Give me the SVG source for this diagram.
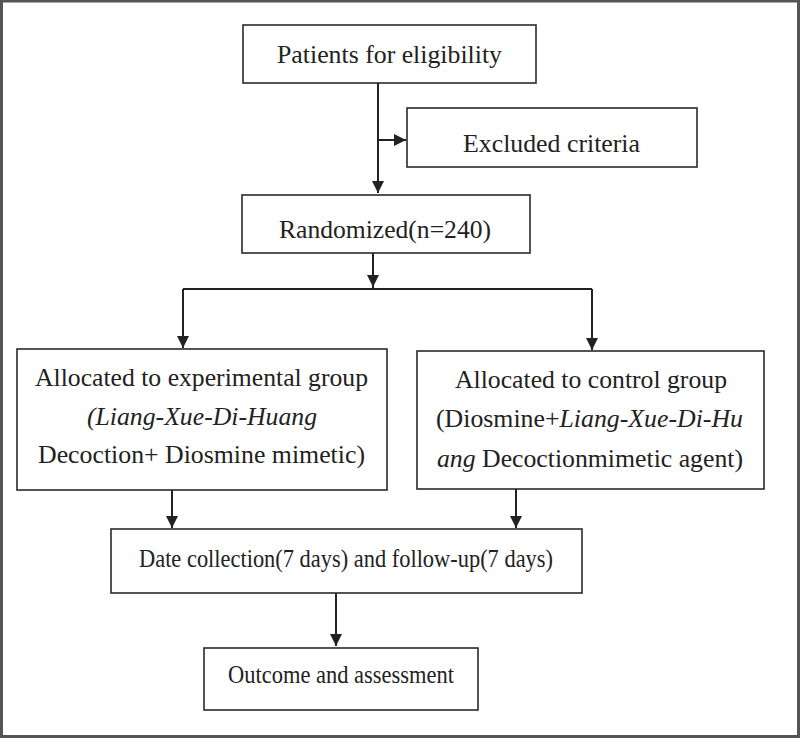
<svg xmlns="http://www.w3.org/2000/svg" width="800" height="738" viewBox="0 0 800 738">
<defs>
<style>
.box{fill:#fff;stroke:#2a2a2a;stroke-width:1.6}
.t{font-family:"Liberation Serif","Times New Roman",serif;font-size:26px;fill:#222;text-anchor:middle}
.ln{fill:none;stroke:#222;stroke-width:2}
</style>
<marker id="ah" viewBox="0 0 10 10" refX="10" refY="5" markerWidth="12" markerHeight="13" markerUnits="userSpaceOnUse" orient="auto">
<path d="M0,0 L10,5 L0,10 Z" fill="#222"/>
</marker>
</defs>
<rect x="1.5" y="1" width="797" height="735.5" fill="#fff" stroke="#555" stroke-width="3"/>
<g id="connectors">
<path class="ln" d="M378,83 V193" marker-end="url(#ah)"/>
<path class="ln" d="M378,140 H406" marker-end="url(#ah)"/>
<path class="ln" d="M373,253 V288"/>
<path class="ln" d="M373,277 V287" marker-end="url(#ah)"/>
<path class="ln" d="M183,289 H592"/>
<path class="ln" d="M183,289 V348" marker-end="url(#ah)"/>
<path class="ln" d="M592,289 V350" marker-end="url(#ah)"/>
<path class="ln" d="M172,490 V528" marker-end="url(#ah)"/>
<path class="ln" d="M516,489 V528" marker-end="url(#ah)"/>
<path class="ln" d="M336,593 V646" marker-end="url(#ah)"/>
</g>
<g id="patients">
<rect class="box" x="243" y="25" width="293" height="58"/>
<text class="t" x="389.5" y="63" textLength="225" lengthAdjust="spacingAndGlyphs">Patients for eligibility</text>
</g>
<g id="excluded">
<rect class="box" x="407" y="108" width="290" height="59"/>
<text class="t" x="551.5" y="152" textLength="177" lengthAdjust="spacingAndGlyphs">Excluded criteria</text>
</g>
<g id="randomized">
<rect class="box" x="242" y="195" width="288" height="58"/>
<text class="t" x="385" y="238" textLength="212" lengthAdjust="spacingAndGlyphs">Randomized(n=240)</text>
</g>
<g id="experimental">
<rect class="box" x="17" y="349" width="370" height="141"/>
<text class="t" x="201.5" y="386" textLength="333" lengthAdjust="spacingAndGlyphs">Allocated to experimental group</text>
<text class="t" x="202" y="425" font-style="italic" textLength="230" lengthAdjust="spacingAndGlyphs">(Liang-Xue-Di-Huang</text>
<text class="t" x="201.5" y="463" textLength="327" lengthAdjust="spacingAndGlyphs">Decoction+ Diosmine mimetic)</text>
</g>
<g id="control">
<rect class="box" x="417" y="351" width="347" height="138"/>
<text class="t" x="591" y="388" textLength="272" lengthAdjust="spacingAndGlyphs">Allocated to control group</text>
<text class="t" x="589.5" y="427" textLength="307" lengthAdjust="spacingAndGlyphs">(Diosmine+<tspan font-style="italic">Liang-Xue-Di-Hu</tspan></text>
<text class="t" x="590" y="467" textLength="306" lengthAdjust="spacingAndGlyphs"><tspan font-style="italic">ang</tspan> Decoctionmimetic agent)</text>
</g>
<g id="datecollection">
<rect class="box" x="111" y="529" width="471" height="64"/>
<text class="t" x="346" y="567" textLength="414" lengthAdjust="spacingAndGlyphs">Date collection(7 days) and follow-up(7 days)</text>
</g>
<g id="outcome">
<rect class="box" x="204" y="648" width="274" height="62"/>
<text class="t" x="341" y="683" textLength="226" lengthAdjust="spacingAndGlyphs">Outcome and assessment</text>
</g>
</svg>
